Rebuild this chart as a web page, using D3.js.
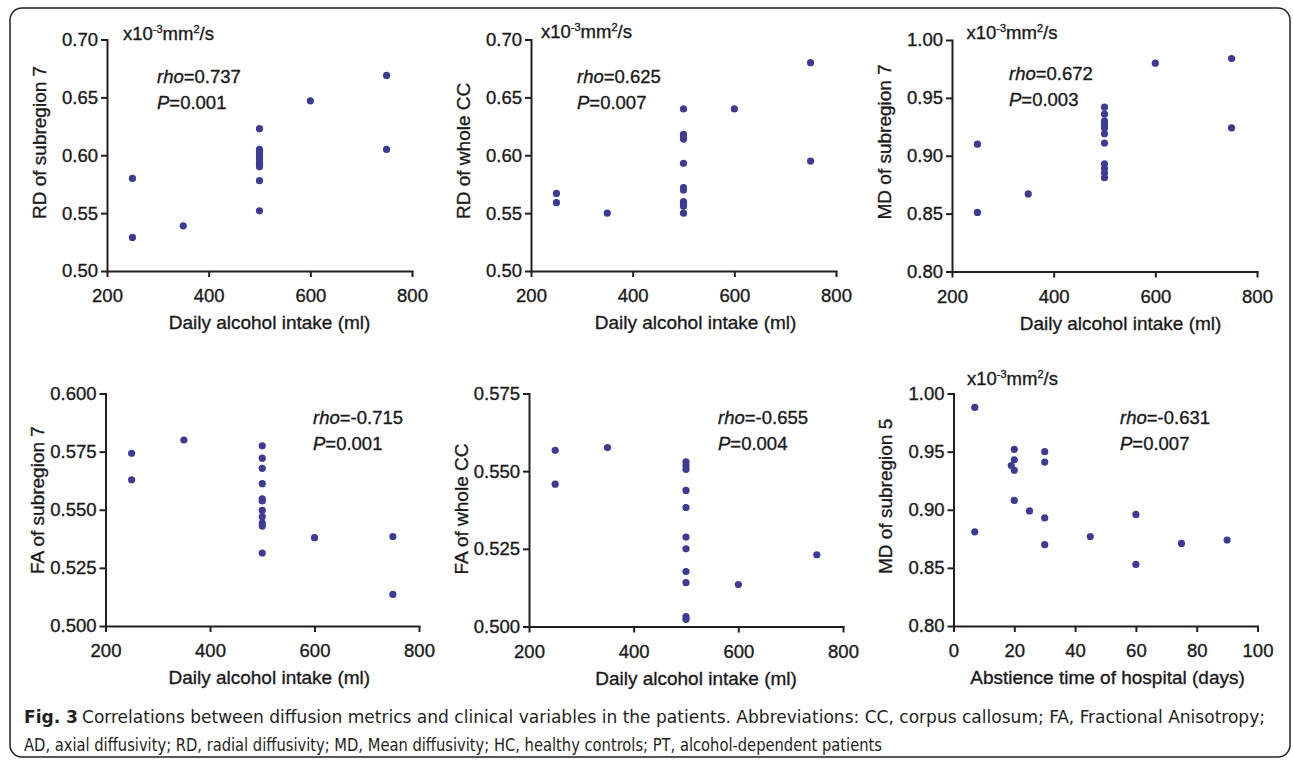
<!DOCTYPE HTML>
<html>
<head>
    <title>Fig. 3</title>
    <script type="text/javascript" src="https://cdnjs.cloudflare.com/ajax/libs/d3/7.8.5/d3.min.js"></script>
    <style>
        body {
            margin: 0;
            background-color: white;
        }
        .axis path, .axis line {
            stroke: #231f20;
            stroke-width: 2;
        }
        .axis text, .label, .stat {
            font-family: "Liberation Sans", Arial, sans-serif;
            fill: #1a1a1a;
            stroke: #1a1a1a;
            stroke-width: 0.35px;
        }
        .axis text, .stat {
            font-size: 18.5px;
        }
        .label {
            font-size: 19px;
        }
        .caption {
            font-family: "Liberation Sans Narrow", "DejaVu Sans Condensed", "Open Sans", sans-serif;
            font-size: 18px;
            fill: #231f20;
        }
    </style>
</head>

<body>
    <div id="panel"></div>

    <script>
        // daily alcohol intake (ml), same order for the first plots
        var intake = [250, 250, 350, 500, 500, 500, 500, 500, 500, 500, 500, 500, 500, 500, 600, 750, 750];
        var rd_sub7 = [0.580, 0.529, 0.539, 0.623, 0.605, 0.603, 0.601, 0.599, 0.597, 0.594, 0.592, 0.590, 0.578, 0.552, 0.647, 0.669, 0.605];
        var rd_cc   = [0.567, 0.559, 0.550, 0.640, 0.618, 0.616, 0.614, 0.593, 0.572, 0.570, 0.560, 0.558, 0.556, 0.550, 0.640, 0.680, 0.595];
        var md_sub7 = [0.910, 0.851, 0.867, 0.942, 0.936, 0.930, 0.927, 0.924, 0.919, 0.911, 0.893, 0.889, 0.885, 0.881, 0.980, 0.984, 0.924];
        var fa_sub7 = [0.5743, 0.5629, 0.5800, 0.5775, 0.5722, 0.5678, 0.5612, 0.5547, 0.5538, 0.5497, 0.5470, 0.5443, 0.5430, 0.5314, 0.5380, 0.5385, 0.5136];
        var fa_cc   = [0.5567, 0.5458, 0.5576, 0.5530, 0.5518, 0.5506, 0.5438, 0.5383, 0.5288, 0.5250, 0.5177, 0.5141, 0.5032, 0.5023, 0.5135, 0.5231];
        var fa_cc_x = [250, 250, 350, 500, 500, 500, 500, 500, 500, 500, 500, 500, 500, 500, 600, 750];

        // abstinence time (days) vs MD of subregion 5
        var days    = [7, 7, 19, 20, 20, 20, 20, 25, 30, 30, 30, 30, 45, 60, 60, 75, 90];
        var md_sub5 = [0.988, 0.881, 0.938, 0.952, 0.943, 0.934, 0.908, 0.899, 0.950, 0.941, 0.893, 0.870, 0.877, 0.896, 0.853, 0.871, 0.874];

        var intake_ticks = [200, 400, 600, 800];
        var days_ticks = [0, 20, 40, 60, 80, 100];
        var rd_ticks = [0.50, 0.55, 0.60, 0.65, 0.70];
        var md_ticks = [0.80, 0.85, 0.90, 0.95, 1.00];
        var fa_sub7_ticks = [0.500, 0.525, 0.550, 0.575, 0.600];
        var fa_cc_ticks = [0.500, 0.525, 0.550, 0.575];

        var y_titles = ["RD of subregion 7", "RD of whole CC", "MD of subregion 7", "FA of subregion 7", "FA of whole CC", "MD of subregion 5"];
        var rho_values = ["0.737", "0.625", "0.672", "-0.715", "-0.655", "-0.631"];
        var p_values = ["0.001", "0.007", "0.003", "0.001", "0.004", "0.007"];
        var caption_lines = [
            "Correlations between diffusion metrics and clinical variables in the patients. Abbreviations: CC, corpus callosum; FA, Fractional Anisotropy;",
            "AD, axial diffusivity; RD, radial diffusivity; MD, Mean diffusivity; HC, healthy controls; PT, alcohol-dependent patients"
        ];
    </script>

    <script>
        var width = 1293, height = 764;
        var dot_color = "#3d3b94";

        var svgContainer = d3.select("#panel").append("svg")
                                .attr("width", width)
                                .attr("height", height);

        // figure frame
        svgContainer.append("rect")
                    .attr("x", 10).attr("y", 8)
                    .attr("width", 1280).attr("height", 749)
                    .attr("rx", 12).attr("ry", 12)
                    .attr("fill", "none")
                    .attr("stroke", "#231f20")
                    .attr("stroke-width", 1.5);

        // box = [left, right, top, bottom]
        var panels = [
            {x: intake, y: rd_sub7, xdom: [200, 800], xticks: intake_ticks, ydom: [0.5, 0.7], yticks: rd_ticks, yfmt: ".2f",
             box: [107, 412, 39.5, 271], xtitle: "Daily alcohol intake (ml)", xshift: 10, stat: [50, 43.5], unit: [16, 0]},
            {x: intake, y: rd_cc, xdom: [200, 800], xticks: intake_ticks, ydom: [0.5, 0.7], yticks: rd_ticks, yfmt: ".2f",
             box: [531, 836, 39.5, 271], xtitle: "Daily alcohol intake (ml)", xshift: 12, stat: [46, 43.5], unit: [10, -1.5]},
            {x: intake, y: md_sub7, xdom: [200, 800], xticks: intake_ticks, ydom: [0.8, 1.0], yticks: md_ticks, yfmt: ".2f",
             box: [952, 1257, 40, 271.5], xtitle: "Daily alcohol intake (ml)", xshift: 16, stat: [57, 39.5], unit: [14.5, -1]},
            {x: intake, y: fa_sub7, xdom: [200, 800], xticks: intake_ticks, ydom: [0.5, 0.6], yticks: fa_sub7_ticks, yfmt: ".3f",
             box: [105.5, 419, 393.5, 626], xtitle: "Daily alcohol intake (ml)", xshift: 7, stat: [207.5, 30], unit: null},
            {x: fa_cc_x, y: fa_cc, xdom: [200, 800], xticks: intake_ticks, ydom: [0.5, 0.575], yticks: fa_cc_ticks, yfmt: ".3f",
             box: [529, 843, 393.5, 626.5], xtitle: "Daily alcohol intake (ml)", xshift: 10, stat: [189, 30], unit: null},
            {x: days, y: md_sub5, xdom: [0, 100], xticks: days_ticks, ydom: [0.8, 1.0], yticks: md_ticks, yfmt: ".2f",
             box: [953.5, 1257.5, 393.5, 626], xtitle: "Abstience time of hospital (days)", xshift: 2, stat: [166.5, 30], unit: [13.5, -8.3]}
        ];

        function draw_panel(p, i)
        {
            var left = p.box[0], right = p.box[1], top = p.box[2], bottom = p.box[3];
            var x = d3.scaleLinear().domain(p.xdom).range([left, right]);
            var y = d3.scaleLinear().domain(p.ydom).range([bottom, top]);
            var g = svgContainer.append("g");

            g.append("g")
             .attr("class", "axis")
             .attr("transform", "translate(0," + bottom + ")")
             .call(d3.axisBottom(x).tickValues(p.xticks).tickSize(6).tickSizeOuter(0).tickPadding(12).tickFormat(d3.format("d")));
            g.append("g")
             .attr("class", "axis")
             .attr("transform", "translate(" + left + ",0)")
             .call(d3.axisLeft(y).tickValues(p.yticks).tickSize(6).tickSizeOuter(0).tickPadding(3).tickFormat(d3.format(p.yfmt)));
            g.selectAll(".axis path").attr("stroke-linecap", "square");
            g.selectAll(".axis text").attr("font-family", null).attr("font-size", null);

            // axis titles
            g.append("text")
             .attr("class", "label")
             .attr("x", (left + right) / 2 + p.xshift)
             .attr("y", bottom + 58)
             .attr("text-anchor", "middle")
             .text(p.xtitle);
            g.append("text")
             .attr("class", "label")
             .attr("transform", "translate(" + (left - 68) + "," + (bottom - 52) + ") rotate(-90)")
             .attr("dy", "0.35em")
             .attr("text-anchor", "start")
             .text(y_titles[i]);

            // unit label
            if(p.unit)
            {
                var u = g.append("text")
                         .attr("class", "stat")
                         .attr("x", left + p.unit[0])
                         .attr("y", top + p.unit[1]);
                u.append("tspan").text("x10");
                u.append("tspan").attr("dy", -7).attr("font-size", "11px").text("-3");
                u.append("tspan").attr("dy", 7).text("mm");
                u.append("tspan").attr("dy", -7).attr("font-size", "11px").text("2");
                u.append("tspan").attr("dy", 7).text("/s");
            }

            // correlation text
            var rho = g.append("text")
                       .attr("class", "stat")
                       .attr("x", left + p.stat[0])
                       .attr("y", top + p.stat[1]);
            rho.append("tspan").attr("font-style", "italic").text("rho");
            rho.append("tspan").text("=" + rho_values[i]);
            var pv = g.append("text")
                      .attr("class", "stat")
                      .attr("x", left + p.stat[0])
                      .attr("y", top + p.stat[1] + 26);
            pv.append("tspan").attr("font-style", "italic").text("P");
            pv.append("tspan").text("=" + p_values[i]);

            // points
            g.selectAll("circle")
             .data(d3.range(p.y.length))
             .enter()
             .append("circle")
             .attr("cx", function(k){ return x(p.x[k]); })
             .attr("cy", function(k){ return y(p.y[k]); })
             .attr("r", 3.6)
             .attr("fill", dot_color);
        }

        for(var i = 0; i < panels.length; ++i)
            draw_panel(panels[i], i);

        // caption
        svgContainer.append("text")
                    .attr("class", "caption")
                    .attr("x", 24).attr("y", 723)
                    .attr("font-weight", "bold")
                    .attr("textLength", 54)
                    .attr("lengthAdjust", "spacingAndGlyphs")
                    .text("Fig. 3");
        svgContainer.append("text")
                    .attr("class", "caption")
                    .attr("x", 82).attr("y", 723)
                    .attr("textLength", 1183)
                    .attr("lengthAdjust", "spacingAndGlyphs")
                    .text(caption_lines[0]);
        svgContainer.append("text")
                    .attr("class", "caption")
                    .attr("x", 24).attr("y", 751)
                    .attr("textLength", 858)
                    .attr("lengthAdjust", "spacingAndGlyphs")
                    .text(caption_lines[1]);
    </script>
</body>
</html>
